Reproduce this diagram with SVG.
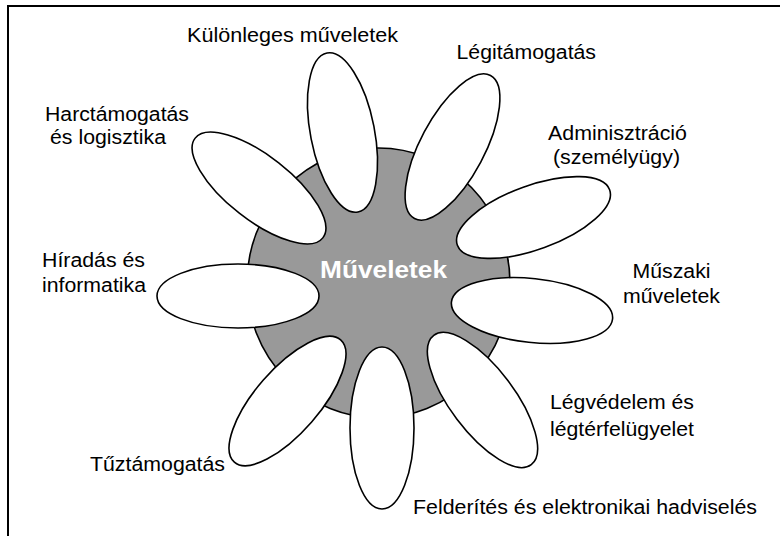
<svg xmlns="http://www.w3.org/2000/svg" width="780" height="536" viewBox="0 0 780 536">
<style>
.lbl{font-family:"Liberation Sans",Arial,sans-serif;font-size:20px;fill:#000}
.petal{fill:#fff;stroke:#000;stroke-width:1.6}
.hub{fill:#999;stroke:#000;stroke-width:1.6}
.title{font-family:"Liberation Sans",Arial,sans-serif;font-size:24px;font-weight:bold;fill:#fff}
</style>
<rect width="780" height="536" fill="#fff"/>
<path d="M8,537 V6 H781" fill="none" stroke="#000" stroke-width="2"/>
<g id="center">
<ellipse class="hub" cx="378.5" cy="283" rx="131.5" ry="135"/>
<text class="title" x="320" y="278" textLength="127" lengthAdjust="spacingAndGlyphs">Műveletek</text>
</g>
<g id="kulonleges">
<ellipse class="petal" cx="342.5" cy="132.5" rx="32" ry="81" transform="rotate(-11 342.5 132.5)"/>
<text class="lbl" x="187" y="41.5" textLength="211" lengthAdjust="spacingAndGlyphs">Különleges műveletek</text>
</g>
<g id="legitamogatas">
<ellipse class="petal" cx="452.5" cy="147" rx="32" ry="81" transform="rotate(28 452.5 147)"/>
<text class="lbl" x="456.5" y="59" textLength="139.5" lengthAdjust="spacingAndGlyphs">Légitámogatás</text>
</g>
<g id="adminisztracio">
<ellipse class="petal" cx="533.5" cy="217.5" rx="32" ry="81" transform="rotate(70 533.5 217.5)"/>
<text class="lbl" x="548" y="140" textLength="139" lengthAdjust="spacingAndGlyphs">Adminisztráció</text>
<text class="lbl" x="553" y="164" textLength="127" lengthAdjust="spacingAndGlyphs">(személyügy)</text>
</g>
<g id="muszaki">
<ellipse class="petal" cx="532" cy="310.5" rx="32" ry="81" transform="rotate(-84 532 310.5)"/>
<text class="lbl" x="632.5" y="278" textLength="78" lengthAdjust="spacingAndGlyphs">Műszaki</text>
<text class="lbl" x="623" y="303" textLength="97" lengthAdjust="spacingAndGlyphs">műveletek</text>
</g>
<g id="legvedelem">
<ellipse class="petal" cx="482.5" cy="400" rx="32" ry="81" transform="rotate(-37 482.5 400)"/>
<text class="lbl" x="550" y="409" textLength="144" lengthAdjust="spacingAndGlyphs">Légvédelem és</text>
<text class="lbl" x="550" y="436" textLength="144" lengthAdjust="spacingAndGlyphs">légtérfelügyelet</text>
</g>
<g id="felderites">
<ellipse class="petal" cx="382" cy="428" rx="32" ry="81"/>
<text class="lbl" x="413" y="514" textLength="344" lengthAdjust="spacingAndGlyphs">Felderítés és elektronikai hadviselés</text>
</g>
<g id="tuztamogatas">
<ellipse class="petal" cx="287.5" cy="401" rx="32" ry="81" transform="rotate(41 287.5 401)"/>
<text class="lbl" x="90" y="471" textLength="135" lengthAdjust="spacingAndGlyphs">Tűztámogatás</text>
</g>
<g id="hiradas">
<ellipse class="petal" cx="238" cy="296" rx="32" ry="81" transform="rotate(90 238 296)"/>
<text class="lbl" x="42" y="267" textLength="103" lengthAdjust="spacingAndGlyphs">Híradás és</text>
<text class="lbl" x="42" y="292" textLength="104" lengthAdjust="spacingAndGlyphs">informatika</text>
</g>
<g id="harctamogatas">
<ellipse class="petal" cx="259" cy="188" rx="32" ry="81" transform="rotate(-52 259 188)"/>
<text class="lbl" x="45" y="121" textLength="144" lengthAdjust="spacingAndGlyphs">Harctámogatás</text>
<text class="lbl" x="50" y="144" textLength="116" lengthAdjust="spacingAndGlyphs">és logisztika</text>
</g>
<g id="connectors"/>
</svg>
